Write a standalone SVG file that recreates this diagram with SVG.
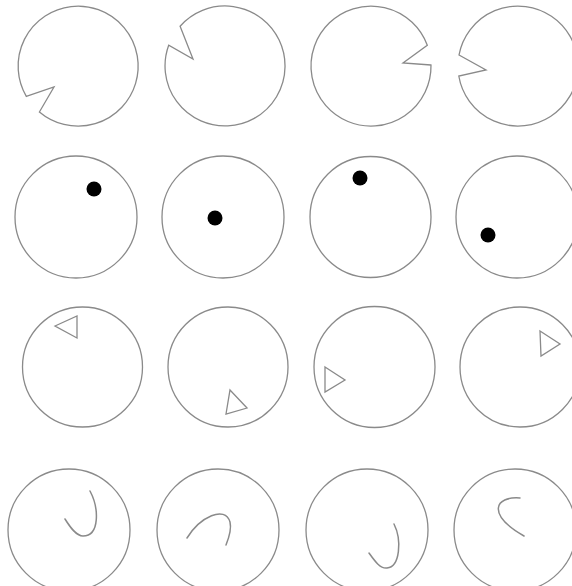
<svg xmlns="http://www.w3.org/2000/svg" width="572" height="586" viewBox="0 0 572 586">
<style>
.s{fill:#fff;stroke:#8a8a8a;stroke-width:1.3;stroke-linejoin:miter}
.c{fill:none;stroke:#8a8a8a;stroke-width:1.5;stroke-linecap:round}
.d{fill:#000}
</style>
<rect width="572" height="586" fill="#fff"/>
<g id="r1c1"><path class="s" d="M26.3,96.4 L54,87 L39.4,112 A60,60 0 1 0 26.3,96.4 Z"/></g>
<g id="r1c2"><path class="s" d="M180.1,26.2 L193,59 L168.7,45.3 A60,60 0 1 0 180.1,26.2 Z"/></g>
<g id="r1c3"><path class="s" d="M431,65 L403,63 L427.3,45.3 A60,60 0 1 0 431,65 Z"/></g>
<g id="r1c4"><path class="s" d="M459,55 L486,70 L458.8,76 A60,60 0 1 0 459,55 Z"/></g>

<g id="r2c1"><circle class="s" cx="76" cy="217" r="61"/><circle class="d" cx="94" cy="189" r="7.5"/></g>
<g id="r2c2"><circle class="s" cx="223" cy="217" r="61"/><circle class="d" cx="215" cy="218" r="7.5"/></g>
<g id="r2c3"><circle class="s" cx="370.5" cy="217" r="60.5"/><circle class="d" cx="360" cy="178" r="7.5"/></g>
<g id="r2c4"><circle class="s" cx="517" cy="217" r="61"/><circle class="d" cx="488" cy="235" r="7.5"/></g>

<g id="r3c1"><circle class="s" cx="82.5" cy="367" r="60"/><polygon class="s" points="55,326 77,316 77,338"/></g>
<g id="r3c2"><circle class="s" cx="228" cy="367" r="60"/><polygon class="s" points="230,390 247,408 226,414"/></g>
<g id="r3c3"><circle class="s" cx="374.5" cy="367" r="60.5"/><polygon class="s" points="325,367 345,380 325,392"/></g>
<g id="r3c4"><circle class="s" cx="520" cy="367" r="60"/><polygon class="s" points="540,331 560,344 541,356"/></g>

<g id="r4c1"><circle class="s" cx="69" cy="530" r="61"/><path class="c" d="M90,491 C99,508 100,536 83,536 C76,536 70,527 65,519"/></g>
<g id="r4c2"><circle class="s" cx="218" cy="530" r="61"/><path class="c" d="M187,538 C200,517 225,505 230,522 C232,530 228,540 226,545"/></g>
<g id="r4c3"><circle class="s" cx="367" cy="530" r="61"/><path class="c" d="M394,524 C402,540 400,567 387,568 C380,569 374,560 369,553"/></g>
<g id="r4c4"><circle class="s" cx="515" cy="530" r="61"/><path class="c" d="M520,498 C495,496 486,514 524,536"/></g>
</svg>
